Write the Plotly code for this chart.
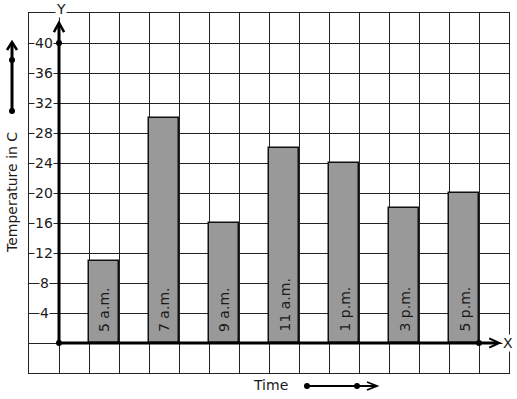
import plotly.graph_objects as go

times = ["5 a.m.", "7 a.m.", "9 a.m.", "11 a.m.", "1 p.m.", "3 p.m.", "5 p.m."]
temps = [11, 30, 16, 26, 24, 18, 20]
bar_pos = [1.5, 3.5, 5.5, 7.5, 9.5, 11.5, 13.5]
y_ticks = [4, 8, 12, 16, 20, 24, 28, 32, 36, 40]

FONT = "DejaVu Sans"
INK = "#1a1a1a"

fig = go.Figure()
fig.add_trace(go.Bar(
    x=bar_pos, y=temps, width=1,
    marker=dict(color="#999999", line=dict(color="#111111", width=1.5)),
    hoverinfo="skip", showlegend=False,
))

# axis dots
fig.add_trace(go.Scatter(x=[0, 0, 14], y=[0, 40, 0], mode="markers",
                         marker=dict(color="black", size=6), showlegend=False,
                         hoverinfo="skip", cliponaxis=False))

shapes = [
    # y axis
    dict(type="line", xref="x", yref="y", x0=0, y0=0, x1=0, y1=42.6,
         line=dict(color="black", width=3)),
    dict(type="path", xref="x", yref="y",
         path="M -0.17 41.45 L 0 42.7 L 0.17 41.45",
         line=dict(color="black", width=2.5)),
    # x axis
    dict(type="line", xref="x", yref="y", x0=0, y0=0, x1=14.62, y1=0,
         line=dict(color="black", width=3)),
    dict(type="path", xref="x", yref="y",
         path="M 14.34 0.62 L 14.68 0 L 14.34 -0.62",
         line=dict(color="black", width=2)),
    # left vertical arrow (outside plot)
    dict(type="line", xref="paper", yref="paper", x0=-0.0354, y0=(373-111)/360,
         x1=-0.0354, y1=(373-43)/360, line=dict(color="black", width=3)),
    dict(type="path", xref="paper", yref="paper",
         path="M %f %f L %f %f L %f %f" % (-0.0458, (373-50)/360, -0.0354, (373-42)/360,
                                             -0.025, (373-50)/360),
         line=dict(color="black", width=2.5)),
    # bottom time arrow
    dict(type="line", xref="paper", yref="paper", x0=(307-29)/480, y0=(373-386)/360,
         x1=(376-29)/480, y1=(373-386)/360, line=dict(color="black", width=2)),
    dict(type="path", xref="paper", yref="paper",
         path="M %f %f L %f %f L %f %f" % ((367-29)/480, (373-382)/360, (377-29)/480, (373-386)/360,
                                             (367-29)/480, (373-390)/360),
         line=dict(color="black", width=1.8)),
]
for (xp, yp) in [(-0.0354, (373-60)/360), (-0.0354, (373-111)/360),
                 ((307-29)/480, (373-386)/360), ((357-29)/480, (373-386)/360)]:
    r = 3 / 480
    ry = 3 / 360
    shapes.append(dict(type="circle", xref="paper", yref="paper",
                       x0=xp - r, x1=xp + r, y0=yp - ry, y1=yp + ry,
                       fillcolor="black", line=dict(width=0)))

annotations = []
for v in y_ticks:
    annotations.append(dict(x=-0.5, y=v, xref="x", yref="y", text=str(v), showarrow=False,
                            xanchor="center", yanchor="middle",
                            font=dict(family=FONT, size=14, color=INK),
                            bgcolor="white", borderpad=0))
for t, xp in zip(times, bar_pos):
    annotations.append(dict(x=xp, y=0, xref="x", yref="y", text=t, showarrow=False,
                            textangle=-90, xanchor="center", yanchor="bottom", yshift=9,
                            font=dict(family=FONT, size=14, color=INK)))
annotations += [
    dict(x=(61-29)/480, y=(373-9)/360, xref="paper", yref="paper", text="Y", showarrow=False,
         xanchor="center", yanchor="middle",
         font=dict(family=FONT, size=14, color=INK), bgcolor="white", borderpad=0),
    dict(x=(508-29)/480, y=(373-343)/360, xref="paper", yref="paper", text="X", showarrow=False,
         xanchor="center", yanchor="middle",
         font=dict(family=FONT, size=14, color=INK), bgcolor="white", borderpad=0),
    dict(x=(12-29)/480, y=(373-193)/360, xref="paper", yref="paper", text="Temperature in C",
         showarrow=False, textangle=-90, xanchor="center", yanchor="middle",
         font=dict(family=FONT, size=14, color=INK)),
    dict(x=(270-29)/480, y=(373-385)/360, xref="paper", yref="paper", text="Time",
         showarrow=False, xanchor="center", yanchor="middle",
         font=dict(family=FONT, size=14, color=INK)),
]

fig.update_layout(
    width=517, height=399,
    margin=dict(l=29, r=8, t=13, b=26),
    paper_bgcolor="white", plot_bgcolor="white",
    xaxis=dict(range=[-1, 15], dtick=1, tick0=0, showgrid=True, gridcolor="#222222", gridwidth=1.4,
               showticklabels=False, zeroline=False, showline=True, mirror=True,
               linecolor="#222222", linewidth=1.4, ticks="", fixedrange=True),
    yaxis=dict(range=[-4, 44], dtick=4, tick0=0, showgrid=True, gridcolor="#222222", gridwidth=1.4,
               showticklabels=False, zeroline=False, showline=True, mirror=True,
               linecolor="#222222", linewidth=1.4, ticks="", fixedrange=True),
    shapes=shapes, annotations=annotations, bargap=0,
)

fig.write_html("out.html")
